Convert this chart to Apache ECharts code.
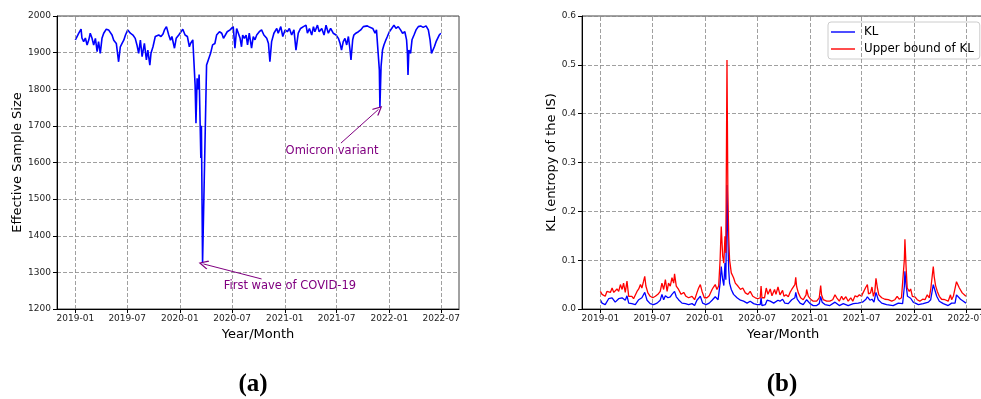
<!DOCTYPE html>
<html>
<head>
<meta charset="utf-8">
<script src="https://cdn.jsdelivr.net/npm/echarts@6/dist/echarts.min.js"></script>
<style>html,body{margin:0;padding:0;background:#fff}#c{width:981px;height:399px}</style>
</head>
<body>
<div id="c"></div>
<script>
// x positions are days since 2019-01-01
const tickDays = [0,181,365,547,731,912,1096,1277];
const tickLabels = ['2019-01','2019-07','2020-01','2020-07','2021-01','2021-07','2022-01','2022-07'];

const essDays = [0,6,12,20,23,29,35,41,47,52,58,64,70,76,81,87,93,99,108,116,122,128,134,143,151,157,163,169,175,183,192,201,209,215,221,227,233,241,248,253,260,264,271,279,285,291,299,306,311,318,326,332,337,346,352,361,365,375,383,391,398,402,410,414,418,421,425,429,432,435,438,440,444,458,464,472,479,487,493,503,511,517,522,530,540,546,551,557,563,569,575,580,584,590,596,601,607,615,621,627,633,642,650,658,668,674,679,685,693,703,708,717,724,732,740,747,755,763,770,778,786,796,805,810,817,825,831,836,845,851,860,868,875,883,891,900,910,918,924,929,935,941,947,953,958,962,968,972,979,988,996,1005,1011,1019,1028,1038,1046,1051,1057,1061,1063,1067,1072,1077,1084,1089,1096,1104,1112,1119,1127,1135,1142,1150,1156,1159,1161,1164,1170,1175,1182,1189,1197,1205,1214,1224,1232,1238,1243,1247,1253,1259,1263,1270,1276];
const essVals = [1935,1944,1953,1964,1940,1930,1940,1921,1935,1953,1940,1921,1939,1903,1930,1898,1939,1953,1964,1962,1964,1948,1934,1925,1875,1916,1925,1934,1948,1962,1953,1948,1939,1921,1898,1934,1889,1925,1880,1907,1866,1898,1916,1944,1939,1948,1944,1951,1962,1971,1948,1934,1944,1912,1939,1948,1953,1964,1948,1944,1916,1925,1935,1939,1812,1707,1830,1800,1840,1844,1612,1700,1325,1866,1880,1898,1921,1925,1948,1957,1953,1939,1944,1957,1962,1957,1971,1912,1966,1971,1939,1916,1948,1939,1948,1921,1953,1912,1944,1935,1948,1957,1962,1948,1939,1925,1875,1930,1953,1966,1953,1971,1944,1962,1957,1966,1948,1962,1907,1953,1966,1971,1975,1953,1966,1948,1971,1957,1975,1957,1966,1948,1975,1953,1966,1953,1948,1939,1925,1907,1930,1939,1921,1944,1912,1880,1935,1948,1953,1957,1962,1971,1966,1973,1969,1966,1953,1962,1957,1853,1751,1862,1907,1921,1935,1944,1957,1966,1975,1966,1971,1962,1953,1957,1935,1898,1839,1907,1898,1935,1948,1962,1971,1973,1969,1973,1962,1935,1898,1894,1916,1930,1935,1948,1953];

const upperDays = [0,6,12,17,23,29,35,41,47,52,58,64,70,76,81,87,93,99,105,110,116,122,128,134,140,145,151,155,159,166,174,183,192,201,209,215,221,227,233,238,244,250,256,259,265,273,282,291,299,308,320,329,337,343,349,355,363,372,380,390,395,401,407,413,418,422,427,431,435,438,442,445,448,451,457,465,471,480,489,497,506,515,523,532,541,550,558,561,564,573,579,585,593,599,608,613,620,627,633,636,641,648,656,662,668,674,679,682,685,691,699,708,718,720,726,734,743,755,764,769,772,778,790,801,811,819,825,834,842,848,857,865,874,881,889,897,904,912,915,920,927,932,936,943,948,953,958,962,967,972,982,993,1005,1017,1028,1036,1043,1051,1057,1061,1063,1067,1071,1078,1083,1089,1098,1106,1115,1125,1133,1141,1148,1153,1157,1162,1165,1170,1176,1183,1191,1203,1214,1222,1226,1232,1238,1243,1247,1253,1257,1263,1269,1276];
const upperVals = [0.036,0.030,0.033,0.026,0.036,0.040,0.034,0.043,0.034,0.030,0.041,0.036,0.050,0.040,0.053,0.034,0.057,0.026,0.023,0.026,0.021,0.023,0.036,0.041,0.050,0.043,0.057,0.067,0.047,0.033,0.026,0.023,0.026,0.030,0.036,0.053,0.040,0.060,0.036,0.053,0.047,0.064,0.053,0.072,0.047,0.040,0.030,0.034,0.026,0.023,0.026,0.019,0.033,0.043,0.050,0.036,0.023,0.023,0.027,0.040,0.045,0.050,0.040,0.047,0.101,0.169,0.108,0.094,0.149,0.115,0.510,0.244,0.149,0.101,0.074,0.064,0.053,0.047,0.040,0.043,0.033,0.030,0.036,0.026,0.023,0.021,0.023,0.047,0.023,0.023,0.043,0.030,0.041,0.027,0.040,0.030,0.045,0.029,0.026,0.038,0.026,0.029,0.025,0.034,0.040,0.038,0.050,0.065,0.046,0.033,0.023,0.019,0.029,0.040,0.026,0.020,0.016,0.016,0.023,0.048,0.029,0.019,0.016,0.016,0.019,0.029,0.023,0.016,0.026,0.019,0.025,0.016,0.023,0.016,0.027,0.025,0.029,0.026,0.031,0.033,0.045,0.050,0.031,0.033,0.045,0.026,0.036,0.063,0.043,0.029,0.023,0.020,0.019,0.016,0.019,0.026,0.020,0.023,0.020,0.101,0.143,0.087,0.043,0.036,0.041,0.026,0.025,0.019,0.016,0.020,0.019,0.029,0.023,0.040,0.036,0.087,0.067,0.048,0.036,0.026,0.020,0.019,0.016,0.029,0.019,0.026,0.023,0.056,0.053,0.043,0.045,0.033,0.029,0.026];

const klDays = [0,6,17,29,41,52,64,76,81,87,93,99,110,122,134,145,155,163,174,186,198,209,215,221,227,236,244,250,259,265,273,285,297,308,320,329,337,349,357,369,380,390,401,411,418,422,427,431,435,438,442,445,448,451,457,465,477,489,500,512,523,535,547,558,561,564,576,582,593,605,620,627,633,636,644,656,668,679,682,687,697,708,720,732,743,755,764,769,774,784,801,819,834,848,865,883,900,915,927,932,941,948,955,962,970,982,999,1022,1040,1055,1061,1063,1067,1072,1083,1092,1110,1127,1145,1153,1158,1162,1167,1174,1183,1197,1214,1226,1238,1243,1249,1257,1267,1276];
const klVals = [0.019,0.012,0.009,0.021,0.023,0.014,0.021,0.023,0.027,0.018,0.027,0.012,0.011,0.009,0.019,0.023,0.034,0.018,0.011,0.009,0.012,0.018,0.030,0.019,0.027,0.023,0.025,0.030,0.036,0.025,0.019,0.012,0.011,0.009,0.011,0.007,0.018,0.026,0.012,0.009,0.012,0.018,0.025,0.019,0.053,0.087,0.060,0.048,0.094,0.060,0.254,0.149,0.080,0.053,0.040,0.030,0.023,0.018,0.016,0.012,0.016,0.011,0.009,0.009,0.023,0.007,0.009,0.018,0.016,0.012,0.018,0.016,0.012,0.020,0.012,0.011,0.019,0.023,0.034,0.020,0.012,0.009,0.019,0.011,0.007,0.007,0.011,0.026,0.014,0.009,0.007,0.014,0.007,0.011,0.007,0.011,0.012,0.014,0.020,0.025,0.018,0.020,0.014,0.034,0.019,0.012,0.009,0.007,0.012,0.011,0.046,0.077,0.050,0.026,0.022,0.014,0.009,0.011,0.014,0.019,0.022,0.050,0.040,0.026,0.016,0.011,0.007,0.012,0.012,0.029,0.026,0.020,0.016,0.012];

const zip = (a, b) => a.map((d, i) => [d, b[i]]);
const FONT = 'DejaVu Sans';
const PURPLE = '#800080';
const arrowHead = 'path://M5,0 L10,9 L9,10 L5,2.6 L1,10 L0,9 Z';

function xAxisCfg(gridIndex) {
  return {
    type: 'value', gridIndex, min: -64, max: 1339,
    name: 'Year/Month', nameLocation: 'middle', nameGap: 17,
    nameTextStyle: {fontFamily: FONT, fontSize: 13, color: '#000'},
    axisLine: {show: true, onZero: false, lineStyle: {color: '#000', width: 1}},
    axisTick: {show: true, customValues: tickDays, length: 4, lineStyle: {color: '#000'}},
    axisLabel: {show: true, customValues: tickDays, margin: 5, fontFamily: FONT, fontSize: 9, color: '#222',
      formatter: v => { const i = tickDays.indexOf(v); return i >= 0 ? tickLabels[i] : ''; }},
    splitLine: {show: false}
  };
}
const gridLineStyle = {color: '#888', width: 0.8, type: [4, 2]};
function vGrid() {
  return {silent: true, symbol: 'none', label: {show: false}, animation: false,
    lineStyle: gridLineStyle, emphasis: {disabled: true},
    data: tickDays.map(d => ({xAxis: d}))};
}
const legendIcon = 'path://M0,0 L24,0 L24,1.4 L0,1.4 Z';

const option = {
  animation: false,
  backgroundColor: '#fff',
  title: [
    {text: '(a)', left: 248, top: 367, textAlign: 'center',
      textStyle: {fontFamily: 'Liberation Serif', fontWeight: 'bold', fontSize: 25, color: '#000'}},
    {text: '(b)', left: 777, top: 367, textAlign: 'center',
      textStyle: {fontFamily: 'Liberation Serif', fontWeight: 'bold', fontSize: 25, color: '#000'}}
  ],
  grid: [
    {left: 57, top: 16, width: 402, height: 293, show: true, borderColor: '#444', borderWidth: 1,
      containLabel: false, outerBoundsMode: 'none'},
    {left: 582, top: 16, width: 402, height: 293, show: true, borderColor: '#444', borderWidth: 1,
      containLabel: false, outerBoundsMode: 'none'}
  ],
  legend: {
    data: [{name: 'KL', icon: legendIcon}, {name: 'Upper bound of KL', icon: legendIcon}],
    orient: 'vertical', left: 828, top: 22,
    itemWidth: 24, itemHeight: 1.4, itemGap: 3, padding: [3, 6, 3, 3],
    borderColor: '#ccc', borderWidth: 1, borderRadius: 3, backgroundColor: '#fff',
    textStyle: {fontFamily: FONT, fontSize: 11.8, color: '#000', padding: [0, 0, 0, 4], lineHeight: 14}
  },
  xAxis: [xAxisCfg(0), xAxisCfg(1)],
  yAxis: [
    {type: 'value', gridIndex: 0, min: 1200, max: 2000, interval: 100,
      name: 'Effective Sample Size', nameLocation: 'middle', nameGap: 33,
      nameTextStyle: {fontFamily: FONT, fontSize: 13, color: '#000'},
      axisLine: {show: true, onZero: false, lineStyle: {color: '#000'}},
      axisTick: {show: true, length: 4, lineStyle: {color: '#000'}},
      axisLabel: {margin: 6, fontFamily: FONT, fontSize: 9, color: '#222', formatter: v => String(v)},
      splitLine: {show: true, lineStyle: gridLineStyle}},
    {type: 'value', gridIndex: 1, min: 0, max: 0.6, interval: 0.1,
      name: 'KL (entropy of the IS)', nameLocation: 'middle', nameGap: 24,
      nameTextStyle: {fontFamily: FONT, fontSize: 13, color: '#000'},
      axisLine: {show: true, onZero: false, lineStyle: {color: '#000'}},
      axisTick: {show: true, length: 4, lineStyle: {color: '#000'}},
      axisLabel: {margin: 6, fontFamily: FONT, fontSize: 9, color: '#222', formatter: v => v.toFixed(1)},
      splitLine: {show: true, lineStyle: gridLineStyle}}
  ],
  series: [
    {type: 'line', xAxisIndex: 0, yAxisIndex: 0, data: [], z: 1, markLine: vGrid()},
    {type: 'line', xAxisIndex: 1, yAxisIndex: 1, data: [], z: 1, markLine: vGrid()},
    {name: 'ESS', type: 'line', xAxisIndex: 0, yAxisIndex: 0, data: zip(essDays, essVals),
      symbol: 'none', z: 3, lineStyle: {color: '#0000ff', width: 1.6}, itemStyle: {color: '#0000ff'},
      markLine: {silent: true, animation: false, symbol: ['none', arrowHead], symbolSize: [9, 10],
        label: {show: false}, lineStyle: {color: PURPLE, width: 1, type: 'solid'},
        data: [
          [{coord: [927, 1653]}, {coord: [1058, 1745]}],
          [{coord: [650, 1282]}, {coord: [447, 1323]}]
        ]},
      markPoint: {silent: true, animation: false, symbol: 'circle', symbolSize: 1,
        itemStyle: {color: 'rgba(0,0,0,0)'},
        label: {show: true, position: 'right', distance: 0, color: PURPLE, fontFamily: FONT, fontSize: 11.5,
          formatter: p => p.name},
        data: [
          {name: 'Omicron variant', coord: [732, 1632]},
          {name: 'First wave of COVID-19', coord: [516, 1262]}
        ]}},
    {name: 'KL', type: 'line', xAxisIndex: 1, yAxisIndex: 1, data: zip(klDays, klVals),
      symbol: 'none', z: 3, lineStyle: {color: '#0000ff', width: 1.3}, itemStyle: {color: '#0000ff'}},
    {name: 'Upper bound of KL', type: 'line', xAxisIndex: 1, yAxisIndex: 1, data: zip(upperDays, upperVals),
      symbol: 'none', z: 4, lineStyle: {color: '#ff0000', width: 1.3}, itemStyle: {color: '#ff0000'}}
  ]
};
const chart = echarts.init(document.getElementById('c'), null, {renderer: 'canvas'});
chart.setOption(option);
</script>
</body>
</html>
